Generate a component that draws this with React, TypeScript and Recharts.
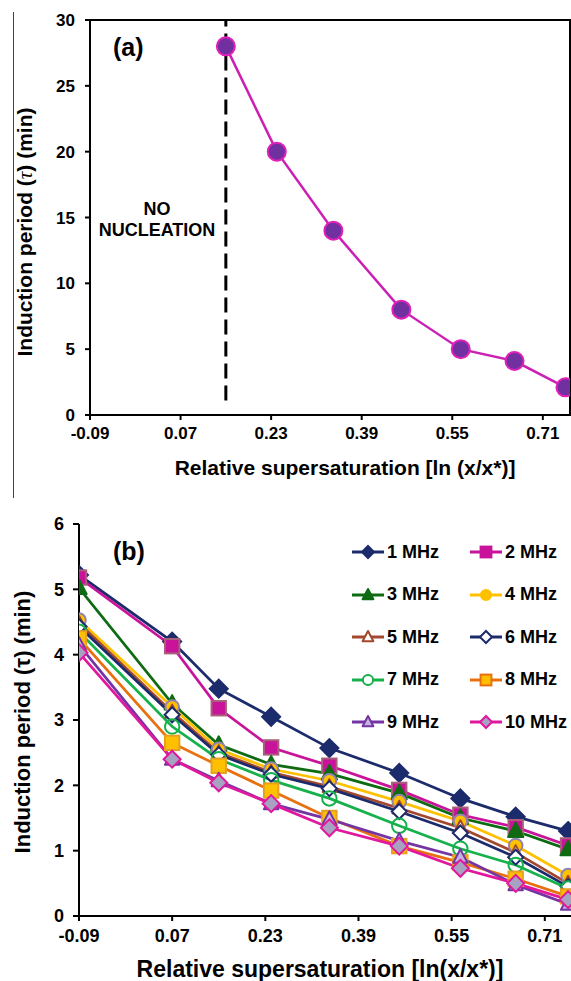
import React from 'react';
import { Line, LineChart, ReferenceArea, ReferenceLine, XAxis, YAxis } from 'recharts';

// panel (a)
const X_A = [0.15, 0.24, 0.34, 0.46, 0.565, 0.66, 0.75];
const TAU_A = [28, 20, 14, 8, 5, 4.1, 2.1];
const Y_TICKS_A = [0, 5, 10, 15, 20, 25, 30];

// panel (b)
const X_B = [-0.09, 0.07, 0.15, 0.24, 0.34, 0.46, 0.565, 0.66, 0.75];
const MHZ_1 = [5.22, 4.2, 3.48, 3.05, 2.57, 2.19, 1.8, 1.52, 1.3];
const MHZ_2 = [5.18, 4.13, 3.18, 2.58, 2.3, 1.93, 1.55, 1.36, 1.08];
const MHZ_3 = [5.02, 3.25, 2.62, 2.32, 2.18, 1.88, 1.5, 1.3, 1.02];
const MHZ_4 = [4.53, 3.2, 2.55, 2.25, 2.07, 1.75, 1.45, 1.08, 0.62];
const MHZ_5 = [4.48, 3.12, 2.5, 2.2, 1.98, 1.65, 1.35, 0.97, 0.5];
const MHZ_6 = [4.43, 3.08, 2.47, 2.17, 1.95, 1.6, 1.27, 0.9, 0.45];
const MHZ_7 = [4.35, 2.9, 2.4, 2.08, 1.8, 1.38, 1.03, 0.78, 0.42];
const MHZ_8 = [4.25, 2.65, 2.3, 1.92, 1.5, 1.07, 0.82, 0.57, 0.3];
const MHZ_9 = [4.15, 2.4, 2.07, 1.72, 1.48, 1.15, 0.9, 0.48, 0.18];
const MHZ_10 = [4.03, 2.4, 2.04, 1.72, 1.35, 1.07, 0.73, 0.5, 0.25];
const Y_TICKS_B = [0, 1, 2, 3, 4, 5, 6];

const X_TICKS = [-0.09, 0.07, 0.23, 0.39, 0.55, 0.71];

type Shape = 'diamond' | 'square' | 'triangle' | 'circle';

const SERIES: {
  key: string;
  name: string;
  values: number[];
  color: string;
  shape: Shape;
  fill: string;
  edge: string;
  size: number;
}[] = [
  { key: 's1', name: '1 MHz', values: MHZ_1, color: '#1c2b6b', shape: 'diamond', fill: '#1c2b6b', edge: '#1c2b6b', size: 18 },
  { key: 's2', name: '2 MHz', values: MHZ_2, color: '#c8139a', shape: 'square', fill: '#c8139a', edge: '#a8607a', size: 16 },
  { key: 's3', name: '3 MHz', values: MHZ_3, color: '#0f6b12', shape: 'triangle', fill: '#0f6b12', edge: '#0f6b12', size: 17 },
  { key: 's4', name: '4 MHz', values: MHZ_4, color: '#ffc000', shape: 'circle', fill: '#ffc000', edge: '#9283b0', size: 16 },
  { key: 's5', name: '5 MHz', values: MHZ_5, color: '#a3472f', shape: 'triangle', fill: '#ffffff', edge: '#a3472f', size: 15 },
  { key: 's6', name: '6 MHz', values: MHZ_6, color: '#1c2b6b', shape: 'diamond', fill: '#ffffff', edge: '#1c2b6b', size: 15 },
  { key: 's7', name: '7 MHz', values: MHZ_7, color: '#16b14c', shape: 'circle', fill: 'none', edge: '#16b14c', size: 17 },
  { key: 's8', name: '8 MHz', values: MHZ_8, color: '#e8700f', shape: 'square', fill: '#ffc000', edge: '#e8a020', size: 16 },
  { key: 's9', name: '9 MHz', values: MHZ_9, color: '#7434a4', shape: 'triangle', fill: '#c4b4de', edge: '#7434a4', size: 16 },
  { key: 's10', name: '10 MHz', values: MHZ_10, color: '#e0189e', shape: 'diamond', fill: '#a8a2c2', edge: '#e0189e', size: 17 },
];

const dataA = X_A.map((x, i) => ({ x, tau: TAU_A[i] }));
const dataB = X_B.map((x, i) => {
  const row: Record<string, number> = { x };
  SERIES.forEach((s) => {
    row[s.key] = s.values[i];
  });
  return row;
});

const FONT = '"Liberation Sans", Arial, Helvetica, sans-serif';
const tickA = { fill: '#000', fontSize: 17, fontWeight: 700, fontFamily: FONT };
const tickB = { fill: '#000', fontSize: 18, fontWeight: 700, fontFamily: FONT };
const axisStroke = { stroke: '#000', strokeWidth: 2 };

function Marker({
  cx,
  cy,
  shape,
  size,
  fill,
  stroke,
  strokeWidth = 2,
}: {
  cx?: number;
  cy?: number;
  shape: Shape;
  size: number;
  fill: string;
  stroke: string;
  strokeWidth?: number;
}) {
  if (cx == null || cy == null) return null;
  const h = size / 2;
  if (shape === 'diamond') {
    return (
      <polygon
        points={`${cx},${cy - h} ${cx + h},${cy} ${cx},${cy + h} ${cx - h},${cy}`}
        fill={fill}
        stroke={stroke}
        strokeWidth={strokeWidth}
      />
    );
  }
  if (shape === 'square') {
    return (
      <rect x={cx - h * 0.9} y={cy - h * 0.9} width={h * 1.8} height={h * 1.8} fill={fill} stroke={stroke} strokeWidth={strokeWidth} />
    );
  }
  if (shape === 'triangle') {
    return (
      <polygon
        points={`${cx},${cy - h} ${cx + h * 0.9},${cy + h * 0.7} ${cx - h * 0.9},${cy + h * 0.7}`}
        fill={fill}
        stroke={stroke}
        strokeWidth={strokeWidth}
        strokeLinejoin="round"
      />
    );
  }
  return <circle cx={cx} cy={cy} r={h * 0.85} fill={fill} stroke={stroke} strokeWidth={strokeWidth} />;
}

function LegendGrid() {
  return (
    <div
      style={{
        position: 'absolute',
        left: 352,
        top: 531,
        display: 'grid',
        gridTemplateColumns: '118px 110px',
        gridAutoRows: '42.5px',
        fontFamily: FONT,
        fontWeight: 700,
        fontSize: 18,
        color: '#000',
      }}
    >
      {SERIES.map((s) => (
        <div key={s.key} style={{ display: 'flex', alignItems: 'center' }}>
          <svg width={34} height={16} style={{ marginRight: 1 }}>
            <line x1={0} y1={8} x2={32} y2={8} stroke={s.color} strokeWidth={3} />
            <Marker cx={16} cy={8} shape={s.shape} size={12} fill={s.fill === 'none' ? '#fff' : s.fill} stroke={s.color} strokeWidth={2} />
          </svg>
          <span>{s.name}</span>
        </div>
      ))}
    </div>
  );
}

const abs = (style: React.CSSProperties): React.CSSProperties => ({
  position: 'absolute',
  fontFamily: FONT,
  fontWeight: 700,
  color: '#000',
  whiteSpace: 'nowrap',
  ...style,
});

export default function App() {
  return (
    <div
      style={{
        position: 'absolute',
        left: 0,
        top: 0,
        width: 571,
        height: 981,
        background: '#fff',
        overflow: 'hidden',
      }}
    >
      {/* figure frame, left edge */}
      <div style={{ position: 'absolute', left: 13, top: 12, width: 1, height: 486, background: '#444' }} />

      <div style={{ position: 'absolute', left: 0, top: 0 }}>
        <LineChart width={571} height={500} data={dataA} margin={{ top: 20, right: 1, left: 0, bottom: 0 }}>
          <XAxis
            dataKey="x"
            type="number"
            domain={[-0.09, 0.758]}
            ticks={X_TICKS}
            tickFormatter={(v) => Number(v).toFixed(2)}
            tick={tickA}
            axisLine={axisStroke}
            tickLine={axisStroke}
            tickSize={5}
            tickMargin={7}
            height={85}
            allowDataOverflow
          />
          <YAxis
            type="number"
            domain={[0, 30]}
            ticks={Y_TICKS_A}
            tick={tickA}
            axisLine={axisStroke}
            tickLine={axisStroke}
            tickSize={5}
            tickMargin={10}
            width={90}
            allowDataOverflow
          />
          <ReferenceArea x1={-0.09} x2={0.758} y1={0} y2={30} fill="#fff" fillOpacity={0} stroke="#000" strokeWidth={2} />
          <ReferenceLine
            segment={[
              { x: X_A[0], y: 1.1 },
              { x: X_A[0], y: 30 },
            ]}
            stroke="#000"
            strokeWidth={3}
            strokeDasharray="15 7"
          />
          <Line
            dataKey="tau"
            stroke="#cc1fb4"
            strokeWidth={2.5}
            isAnimationActive={false}
            dot={{ r: 9, fill: '#7030a0', stroke: '#e020b8', strokeWidth: 2, fillOpacity: 1 }}
          />
        </LineChart>
      </div>

      <div style={{ position: 'absolute', left: 0, top: 500 }}>
        <LineChart width={571} height={481} data={dataB} margin={{ top: 24, right: 0, left: 0, bottom: 0 }}>
          <XAxis
            dataKey="x"
            type="number"
            domain={[-0.09, 0.755]}
            ticks={X_TICKS}
            tickFormatter={(v) => Number(v).toFixed(2)}
            tick={tickB}
            axisLine={axisStroke}
            tickLine={axisStroke}
            tickSize={5}
            tickMargin={8}
            height={65}
            allowDataOverflow
          />
          <YAxis
            type="number"
            domain={[0, 6]}
            ticks={Y_TICKS_B}
            tick={tickB}
            axisLine={axisStroke}
            tickLine={axisStroke}
            tickSize={6}
            tickMargin={9}
            width={79}
            allowDataOverflow
          />
          {SERIES.map((s) => (
            <Line
              key={s.key}
              dataKey={s.key}
              name={s.name}
              stroke={s.color}
              strokeWidth={2.75}
              isAnimationActive={false}
              dot={(p: { cx?: number; cy?: number; index?: number }) => (
                <Marker
                  key={`${s.key}-${p.index}`}
                  cx={p.cx}
                  cy={p.cy}
                  shape={s.shape}
                  size={s.size}
                  fill={s.fill}
                  stroke={s.edge}
                />
              )}
            />
          ))}
        </LineChart>
      </div>

      <LegendGrid />

      {/* panel (a) text */}
      <div style={abs({ left: 113, top: 33, fontSize: 25, lineHeight: '29px' })}>(a)</div>
      <div style={abs({ left: 157, top: 199, fontSize: 18, lineHeight: '21px', transform: 'translateX(-50%)', textAlign: 'center' })}>
        NO
        <br />
        NUCLEATION
      </div>
      <div
        style={abs({
          left: 25,
          top: 232,
          fontSize: 21,
          transform: 'translate(-50%, -50%) rotate(-90deg)',
        })}
      >
        Induction period (<span style={{ fontFamily: 'serif', fontStyle: 'italic', fontWeight: 400 }}>τ</span>) (min)
      </div>
      <div style={abs({ left: 345, top: 468, fontSize: 21, transform: 'translate(-50%, -50%)' })}>
        Relative supersaturation [ln (x/x*)]
      </div>

      {/* panel (b) text */}
      <div style={abs({ left: 113, top: 537, fontSize: 25, lineHeight: '29px' })}>(b)</div>
      <div
        style={abs({
          left: 23,
          top: 722,
          fontSize: 22,
          transform: 'translate(-50%, -50%) rotate(-90deg)',
        })}
      >
        Induction period (τ) (min)
      </div>
      <div style={abs({ left: 320, top: 969, fontSize: 23, transform: 'translate(-50%, -50%)' })}>
        Relative supersaturation [ln(x/x*)]
      </div>
    </div>
  );
}
